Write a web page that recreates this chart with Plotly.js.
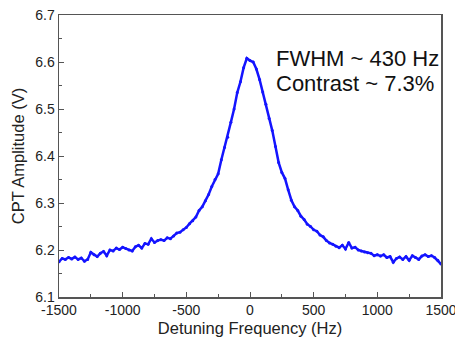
<!DOCTYPE html>
<html>
<head>
<meta charset="utf-8">
<script src="https://cdn.plot.ly/plotly-3.0.1.min.js"></script>
<style>html,body{margin:0;padding:0;background:#fff;}#chart{width:455px;height:341px;}</style>
</head>
<body>
<div id="chart"></div>
<script>
const detuning = [
-1500,-1475,-1450,-1425,-1400,-1375,-1350,-1325,-1300,-1275,
-1250,-1225,-1200,-1175,-1150,-1125,-1100,-1075,-1050,-1025,
-1000,-975,-950,-925,-900,-875,-850,-825,-800,-775,
-750,-725,-700,-675,-650,-625,-600,-575,-550,-525,
-500,-475,-450,-425,-400,-375,-350,-325,-300,-275,
-250,-225,-200,-175,-150,-125,-100,-75,-50,-25,
0,25,50,75,100,125,150,175,200,225,
250,275,300,325,350,375,400,425,450,475,
500,525,550,575,600,625,650,675,700,725,
750,775,800,825,850,875,900,925,950,975,
1000,1025,1050,1075,1100,1125,1150,1175,1200,1225,
1250,1275,1300,1325,1350,1375,1400,1425,1450,1475,1500];
const amplitude = [
6.175,6.182,6.180,6.184,6.181,6.185,6.180,6.183,6.176,6.180,
6.195,6.190,6.186,6.193,6.197,6.188,6.200,6.198,6.204,6.201,
6.206,6.203,6.200,6.198,6.207,6.210,6.204,6.214,6.212,6.224,
6.216,6.220,6.222,6.220,6.226,6.224,6.230,6.236,6.238,6.243,
6.248,6.256,6.262,6.270,6.284,6.292,6.305,6.318,6.335,6.350,
6.362,6.392,6.418,6.440,6.472,6.500,6.535,6.558,6.588,6.608,
6.603,6.600,6.585,6.563,6.536,6.510,6.480,6.454,6.420,6.386,
6.365,6.352,6.328,6.306,6.292,6.284,6.272,6.265,6.255,6.250,
6.243,6.240,6.232,6.228,6.220,6.215,6.212,6.208,6.205,6.210,
6.202,6.216,6.204,6.206,6.200,6.198,6.196,6.194,6.193,6.188,
6.190,6.187,6.190,6.184,6.186,6.174,6.182,6.185,6.180,6.186,
6.178,6.188,6.184,6.180,6.187,6.190,6.186,6.188,6.184,6.178,6.170];
const xTicks = [-1500,-1000,-500,0,500,1000,1500];
const yTicks = [6.1,6.2,6.3,6.4,6.5,6.6,6.7];
const notes = ["FWHM ~ 430 Hz","Contrast ~ 7.3%"];

const font = "Liberation Sans, Arial, sans-serif";
const trace = {
  x: detuning, y: amplitude, type: 'scatter', mode: 'lines+markers',
  line: {color: 'rgb(20,20,255)', width: 2.5},
  marker: {color: 'rgb(20,20,255)', size: 3},
  hoverinfo: 'skip', showlegend: false, cliponaxis: true
};
const axisCommon = {
  showgrid: false, zeroline: false, showline: true, mirror: true,
  linecolor: '#555', linewidth: 1.5, ticks: 'inside', ticklen: 5,
  tickcolor: '#555', tickwidth: 1, ticklabeloverflow: 'allow',
  tickfont: {family: font, size: 14, color: '#222'}
};
const layout = {
  width: 455, height: 341,
  margin: {l: 59, r: 14, t: 15, b: 44},
  paper_bgcolor: '#fff', plot_bgcolor: '#fff',
  font: {family: font, color: '#222'},
  xaxis: Object.assign({}, axisCommon, {
    range: [-1500, 1500], tickmode: 'array', tickvals: xTicks,
    ticktext: xTicks.map(String),
    minor: {ticks: 'inside', ticklen: 3, dtick: 250, tick0: -1500, tickcolor: '#555', showgrid: false},
    title: {text: 'Detuning Frequency (Hz)', font: {family: font, size: 16.5, color: '#222'}, standoff: 5}
  }),
  yaxis: Object.assign({}, axisCommon, {
    range: [6.1, 6.7], tickmode: 'array', tickvals: yTicks,
    ticktext: yTicks.map(v => v.toFixed(1)),
    minor: {ticks: 'inside', ticklen: 3, dtick: 0.05, tick0: 6.1, tickcolor: '#555', showgrid: false},
    title: {text: 'CPT Amplitude (V)', font: {family: font, size: 16.5, color: '#222'}, standoff: 6}
  }),
  annotations: [
    {xref: 'paper', yref: 'paper', x: 0.563, y: 0.845, xanchor: 'left', yanchor: 'middle',
     text: notes[0], showarrow: false, font: {family: font, size: 22, color: '#111'}},
    {xref: 'paper', yref: 'paper', x: 0.563, y: 0.757, xanchor: 'left', yanchor: 'middle',
     text: notes[1], showarrow: false, font: {family: font, size: 22, color: '#111'}}
  ]
};
Plotly.newPlot('chart', [trace], layout, {staticPlot: true, displayModeBar: false});
</script>
</body>
</html>
